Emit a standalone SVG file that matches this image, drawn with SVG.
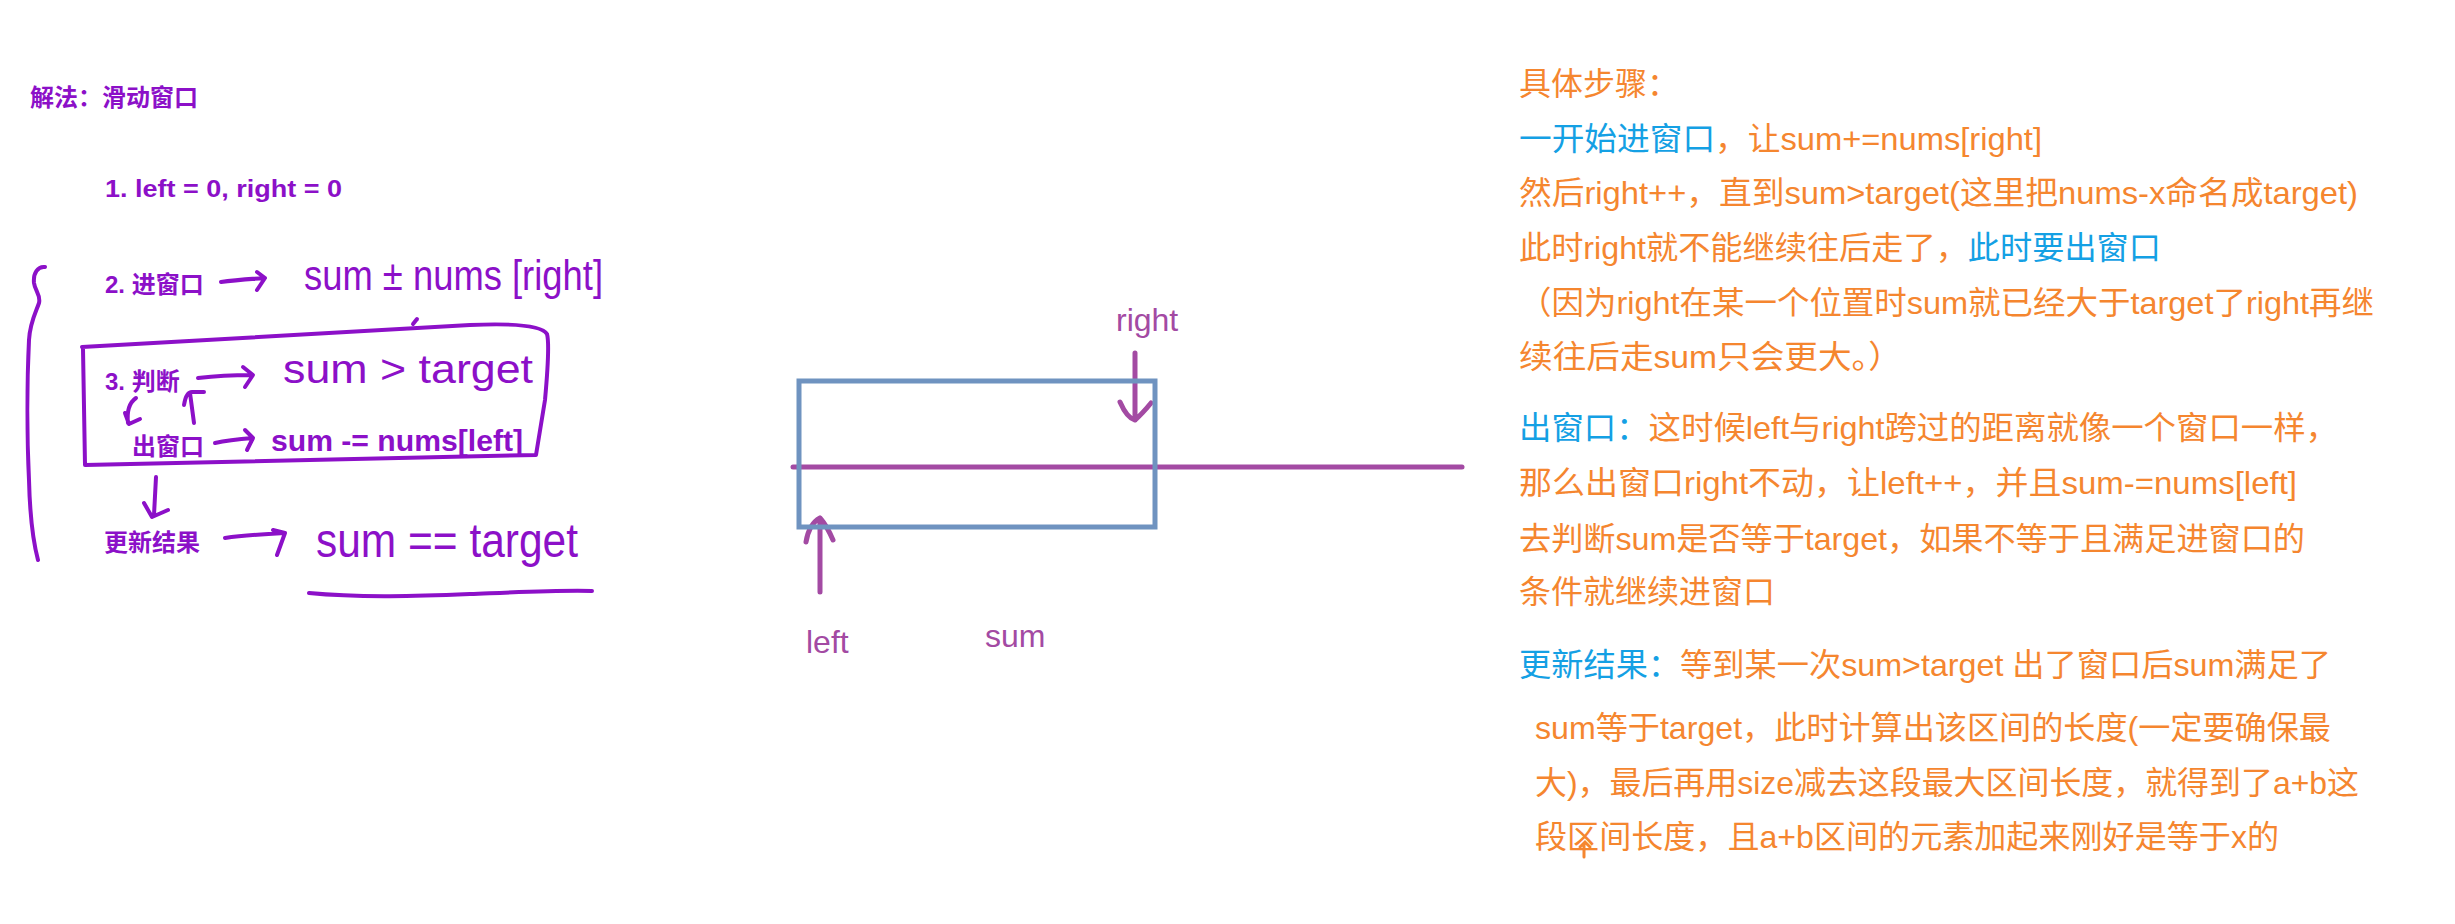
<svg xmlns="http://www.w3.org/2000/svg" width="2455" height="924" viewBox="0 0 2455 924">
<style>
.lbl{font-family:"Liberation Sans","Noto Sans CJK SC",sans-serif;font-weight:bold;font-size:24px;fill:#8c10c8}
.hw{font-family:"Liberation Sans","Noto Sans CJK SC",sans-serif;fill:#8c10c8}
.ink{fill:none;stroke:#8c10c8;stroke-width:4;stroke-linecap:round;stroke-linejoin:round}
.mid{font-family:"Liberation Sans","Noto Sans CJK SC",sans-serif;font-size:32px;fill:#a34aa3}
.mline{fill:none;stroke:#a34aa3;stroke-width:5;stroke-linecap:round;stroke-linejoin:round}
.win{fill:none;stroke:#6f93c0;stroke-width:5}
.note{font-family:"Liberation Sans","Noto Sans CJK SC",sans-serif;font-size:32px;fill:#f5862f}
.blue{fill:#14a0e4}
</style>
<rect width="2455" height="924" fill="#ffffff"/>

<!-- left panel -->
<g id="title"><text class="lbl" x="30" y="106">解法：滑动窗口</text></g>
<g id="step1"><text class="lbl" x="105" y="197" textLength="237" lengthAdjust="spacingAndGlyphs">1. left = 0, right = 0</text></g>
<g id="step2"><text class="lbl" x="105" y="293">2. 进窗口</text></g>
<g id="step2-hw"><text class="hw" x="304" y="290" font-size="42" textLength="299" lengthAdjust="spacingAndGlyphs">sum ± nums [right]</text></g>
<g id="step3"><text class="lbl" x="105" y="390">3. 判断</text></g>
<g id="step3-hw"><text class="hw" x="283" y="383" font-size="40" textLength="250" lengthAdjust="spacingAndGlyphs">sum &gt; target</text></g>
<g id="out"><text class="lbl" x="132" y="455">出窗口</text></g>
<g id="out-hw"><text class="hw" x="271" y="451" font-size="30" font-weight="bold" textLength="252" lengthAdjust="spacingAndGlyphs">sum -= nums[left]</text></g>
<g id="update"><text class="lbl" x="104" y="551">更新结果</text></g>
<g id="update-hw"><text class="hw" x="316" y="557" font-size="48" textLength="262" lengthAdjust="spacingAndGlyphs">sum == target</text></g>

<g id="loop-box">
<path class="ink" d="M83,349 L85,465 C250,462 400,459 536,455 L545,400 Q550,345 547,334 Q540,322 470,325 C330,333 200,341 82,347"/>
<path class="ink" stroke-width="2.5" d="M413,324 L417,319"/>
</g>
<g id="brace">
<path class="ink" d="M45,267 C38,266 33,273 34,283 C35,291 41,295 39,303 C36,312 30,322 29,340 C27,380 27,440 29,480 C30,520 34,545 38,560"/>
</g>
<g id="underline">
<path class="ink" d="M309,593 C360,598 420,596 470,594 C520,592 560,590 592,591"/>
</g>

<g id="connectors">
<path class="ink" d="M221,282 C235,280 250,279 265,278 M257,272 L265,278 L257,290"/>
<path class="ink" d="M198,378 C215,376 235,375 251,375 M243,367 L253,375 L245,387"/>
<path class="ink" d="M136,398 Q126,405 128,423 M125,413 L129,424 L140,419"/>
<path class="ink" d="M194,423 L190,393 M184,405 Q186,392 192,392 L204,392"/>
<path class="ink" d="M215,443 C228,440 240,439 253,438 M245,430 L253,438 L247,450"/>
<path class="ink" d="M156,477 L154,515 M144,503 L152,517 L168,510"/>
<path class="ink" d="M225,538 C245,535 265,534 285,533 M273,530 L285,533 L277,555"/>
<path class="mline" d="M1135,353 L1135,420 M1120,402 Q1127,418 1135,420 Q1142,414 1151,403"/>
<path class="mline" d="M820,592 L820,518 M806,542 Q809,524 820,518 Q827,526 833,540"/>
</g>

<!-- middle diagram -->
<g id="axis"><path class="mline" d="M793,467 L1462,467"/></g>
<g id="window"><rect class="win" x="799" y="381" width="356" height="146"/></g>
<g id="right-label"><text class="mid" x="1116" y="331">right</text></g>
<g id="left-label"><text class="mid" x="806" y="653">left</text></g>
<g id="sum-label"><text class="mid" x="985" y="647">sum</text></g>

<!-- right notes -->
<g id="notes">
<text class="note" x="1519" y="95">具体步骤：</text>
<text class="note" x="1519" y="150" textLength="523" lengthAdjust="spacingAndGlyphs"><tspan class="blue">一开始进窗口</tspan>，让sum+=nums[right]</text>
<text class="note" x="1519" y="204" textLength="839" lengthAdjust="spacingAndGlyphs">然后right++，直到sum&gt;target(这里把nums-x命名成target)</text>
<text class="note" x="1519" y="259" textLength="642" lengthAdjust="spacingAndGlyphs">此时right就不能继续往后走了，<tspan class="blue">此时要出窗口</tspan></text>
<text class="note" x="1519" y="314" textLength="855" lengthAdjust="spacingAndGlyphs">（因为right在某一个位置时sum就已经大于target了right再继</text>
<text class="note" x="1519" y="368" textLength="383" lengthAdjust="spacingAndGlyphs">续往后走sum只会更大。）</text>
<text class="note" x="1519" y="439" textLength="819" lengthAdjust="spacingAndGlyphs"><tspan class="blue">出窗口：</tspan>这时候left与right跨过的距离就像一个窗口一样，</text>
<text class="note" x="1519" y="494" textLength="778" lengthAdjust="spacingAndGlyphs">那么出窗口right不动，让left++，并且sum-=nums[left]</text>
<text class="note" x="1519" y="550" textLength="786" lengthAdjust="spacingAndGlyphs">去判断sum是否等于target，如果不等于且满足进窗口的</text>
<text class="note" x="1519" y="603">条件就继续进窗口</text>
<text class="note" x="1519" y="676" textLength="812" lengthAdjust="spacingAndGlyphs"><tspan class="blue">更新结果：</tspan>等到某一次sum&gt;target 出了窗口后sum满足了</text>
<text class="note" x="1535" y="739" textLength="796" lengthAdjust="spacingAndGlyphs">sum等于target，此时计算出该区间的长度(一定要确保最</text>
<text class="note" x="1535" y="794" textLength="824" lengthAdjust="spacingAndGlyphs">大)，最后再用size减去这段最大区间长度，就得到了a+b这</text>
<text class="note" x="1535" y="848" textLength="744" lengthAdjust="spacingAndGlyphs">段区间长度，且a+b区间的元素加起来刚好是等于x的</text>
<path d="M1584,857 L1584,843 M1580,847 L1585,842 L1590,847" fill="none" stroke="#f5862f" stroke-width="3" stroke-linecap="round"/>
</g>
</svg>
